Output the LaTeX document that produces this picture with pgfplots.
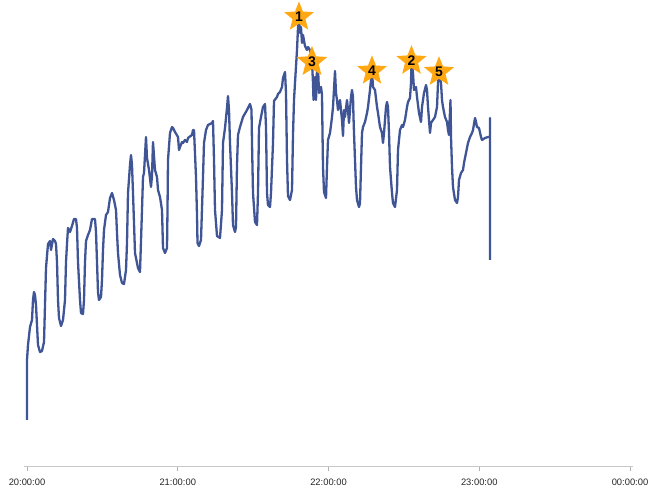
\documentclass[border=0pt]{standalone}
\usepackage{fontspec}
\setmainfont{Liberation Sans}
\usepackage{pgfplots}
\pgfplotsset{compat=1.18}
\usetikzlibrary{shapes.geometric}
\definecolor{lineblue}{RGB}{63,85,150}
\definecolor{starorange}{RGB}{255,168,20}

% x: horizontal position (20:00 at 27, 00:00 at 630), y: height above the axis line
\pgfplotstableread{
x y
27 46
27 106
28 121
30 139
32 146
33 166
34 174
35 171
36 161
37 141
38 121
40 114
42 115
44 124
45 161
46 198
48 222
50 225
51 216
53 227
55 225
56 222
57 204
58 166
59 148
61 140
63 146
65 166
66 204
67 222
68 238
70 234
72 240
74 247
76 247
77 238
78 204
80 166
81 153
83 152
84 166
85 204
86 225
88 231
90 236
92 247
95 247
96 234
97 204
98 174
99 166
101 169
102 186
103 216
104 236
106 251
108 254
110 268
112 273
114 266
116 256
117 233
118 213
120 191
122 183
124 182
126 196
127 223
128 273
130 301
131 311
132 301
133 273
135 213
138 198
140 194
142 256
143 289
144 293
146 329
147 308
149 296
151 279
152 290
153 324
155 296
157 289
158 276
160 269
162 256
163 218
165 213
167 218
167.5 256
168 306
170 333
172 339
173 338
175 334
178 329
179 316
180 319
182 324
183 323
185 326
187 324
188 328
192 331
193 336
194 336
196 289
197 251
197.5 223
199 220
201 226
203 289
204 323
206 336
208 341
212 343
213 345
214 306
215 256
217 230
220 228
222 256
223 323
225 338
227 358
228 370
229 356
230 323
232 273
233 241
235 234
236 239
237 301
238 331
240 339
243 349
247 356
250 362
251.5 356
252 323
253 273
255 244
257 241
258 273
259 338
261 349
263 359
265 362
266 339
267 273
268 261
270 259
271 273
273 323
274 365
277 369
278 372
280 374
282 379
283 388
285 394
286 373
287 306
288 270
290 266
292 276
293 331
294 366
295 383
297 416
298 438
299 449
300 433
301 439
302 423
303 431
305 420
307 416
308 419
310 416
312 404
313 383
313.5 366
314 383
315 389
316 366
317 396
318 399
319 373
321 379
322 371
322.5 333
323 299
324 274
326 268
327 299
328 326
330 333
332 349
333 359
335 395
336 373
337 366
338 356
340 366
342 346
343 330
344 356
345 349
347 366
348 356
349 343
351 369
352 376
353 369
353.5 349
354 333
355 306
356 279
357 266
359 259
360 263
361 299
362 333
363 339
365 344
367 353
368 359
370 376
371 386
372 395
373 379
375 376
377 359
378 353
380 339
382 333
383 323
384 333
386 359
387 364
388 359
389 333
390 299
392 273
393 263
395 259
397 276
398 316
400 336
402 341
403 339
405 346
407 359
408 364
410 368
411 383
411.5 405
413 393
414 376
416 379
417 369
419 353
421 344
422 359
424 373
426 381
427 376
428 359
430 333
431 343
433 346
435 349
437 359
438 383
439 394
441 383
442 366
443 359
445 349
447 344
448 336
449 331
450.5 366
451 329
452 299
453 279
455 266
457 263
458 269
459 286
461 293
463 296
464 303
466 313
468 323
470 329
472 333
473 336
475 348
476 344
477 339
479 338
481 329
482 326
485 328
488 329
490 329
490 348
490 206
}\series

% ranked peaks
\pgfplotstableread{
x y rank
299 449 1
411.5 405 2
312 404 3
372 395 4
439 394 5
}\peaks

\begin{document}
\begin{tikzpicture}
\useasboundingbox (-27bp,-26bp) rectangle (629bp,466bp);
\begin{axis}[
    at={(0,0)}, anchor=south west,
    scale only axis,
    width=603bp, height=466bp,
    xmin=27, xmax=630,
    ymin=0, ymax=466,
    clip=false,
    axis y line=none,
    axis x line=bottom,
    x axis line style={-, draw=black!22, line width=0.9bp, shorten <=-3bp, shorten >=-3bp},
    xtick={27,177.75,328.5,479.25,630},
    xticklabels={20:00:00,21:00:00,22:00:00,23:00:00,00:00:00},
    tick align=outside,
    major tick length=5bp,
    xtick style={draw=black!30, line width=0.7bp},
    xticklabel style={font=\fontsize{9.4}{10}\selectfont, text=black!85, yshift=-4bp},
]
\addplot[lineblue, line width=2.3bp, line join=round] table[x=x, y=y] {\series};
\addplot[
    only marks, mark=none,
    nodes near coords={\pgfplotspointmeta},
    point meta=explicit symbolic,
    nodes near coords style={
        anchor=center, star, star points=5, star point ratio=2.3,
        minimum size=18bp, inner sep=0pt, fill=starorange, draw=none,
        font=\bfseries\fontsize{14}{14}\selectfont, text=black,
    },
] table[x=x, y=y, meta=rank] {\peaks};
\end{axis}
\end{tikzpicture}
\end{document}
